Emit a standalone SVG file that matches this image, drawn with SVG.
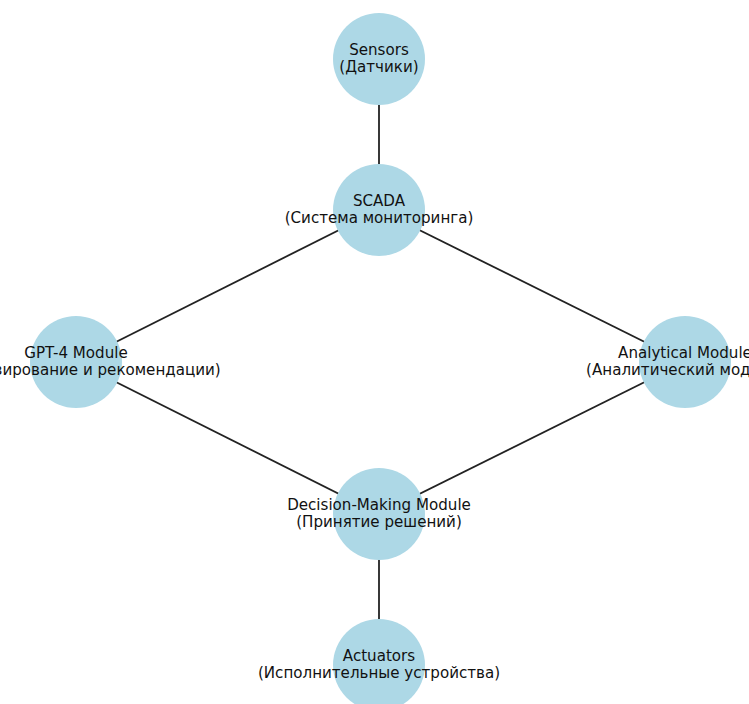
<svg xmlns="http://www.w3.org/2000/svg" width="749" height="704" viewBox="0 0 749 704">
<style>
.node circle{fill:#ADD8E6;stroke:none}
.node text{font-family:"DejaVu Sans",sans-serif;font-size:15.1px;fill:#111;text-anchor:middle}
#edges line{stroke:#222;stroke-width:1.8}
</style>
<rect width="749" height="704" fill="#fff"/>
<g id="edges">
<line x1="379" y1="59" x2="379" y2="210"/>
<line x1="379" y1="210" x2="76" y2="362"/>
<line x1="379" y1="210" x2="685" y2="362"/>
<line x1="76" y1="362" x2="379" y2="514"/>
<line x1="685" y1="362" x2="379" y2="514"/>
<line x1="379" y1="514" x2="379" y2="665"/>
</g>
<g id="sensors" class="node"><circle cx="379" cy="59" r="46"/><text x="379" y="55">Sensors</text><text x="379" y="71.5">(Датчики)</text></g>
<g id="scada" class="node"><circle cx="379" cy="210" r="46"/><text x="379" y="206">SCADA</text><text x="379" y="222.5">(Система мониторинга)</text></g>
<g id="gpt4" class="node"><circle cx="76" cy="362" r="46"/><text x="76" y="358">GPT-4 Module</text><text x="76" y="374.5">(Прогнозирование и рекомендации)</text></g>
<g id="analytical" class="node"><circle cx="685" cy="362" r="46"/><text x="685" y="358">Analytical Module</text><text x="685" y="374.5">(Аналитический модуль)</text></g>
<g id="decision" class="node"><circle cx="379" cy="514" r="46"/><text x="379" y="510">Decision-Making Module</text><text x="379" y="526.5">(Принятие решений)</text></g>
<g id="actuators" class="node"><circle cx="379" cy="665" r="46"/><text x="379" y="661">Actuators</text><text x="379" y="677.5">(Исполнительные устройства)</text></g>
</svg>
